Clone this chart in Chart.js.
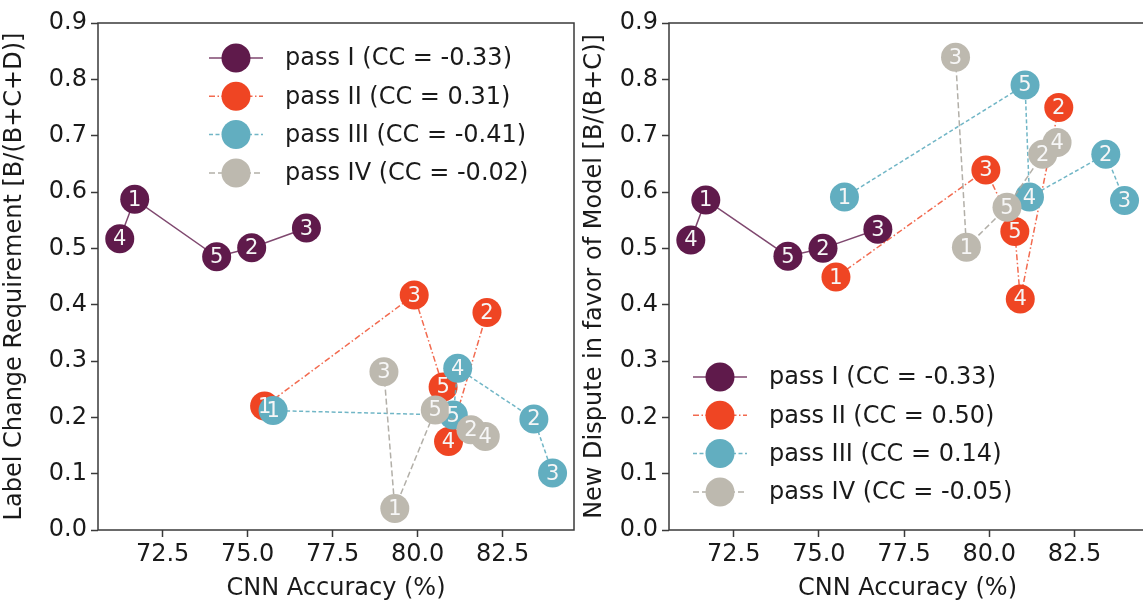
<!DOCTYPE html>
<html>
<head>
<meta charset="utf-8">
<script src="https://cdn.jsdelivr.net/npm/chart.js@4/dist/chart.umd.min.js"></script>
<style>
  html, body { margin: 0; padding: 0; background: #fff; overflow: hidden; }
  body { width: 1143px; height: 603px; position: relative; }
  .box { position: absolute; top: 0; height: 603px; }
  #left { left: 0; width: 580px; }
  #right { left: 580px; width: 572px; }
</style>
</head>
<body>
<div class="box" id="left"><canvas id="chartLeft"></canvas></div>
<div class="box" id="right"><canvas id="chartRight"></canvas></div>
<script>
// fold labels 1..5, values listed in fold order
const folds = ['1', '2', '3', '4', '5'];
const passNames = ['pass I', 'pass II', 'pass III', 'pass IV'];

// CNN accuracy (%) per fold
const accI = [71.68, 75.12, 76.73, 71.24, 74.09];
const accII = [75.50, 82.04, 79.90, 80.91, 80.75];
const accIII = [75.75, 83.42, 83.97, 81.18, 81.05];
const accIV = [79.33, 81.57, 79.01, 81.99, 80.52];

// label change requirement B/(B+C+D)
const lcrI = [0.587, 0.501, 0.536, 0.517, 0.485];
const lcrII = [0.220, 0.386, 0.417, 0.157, 0.254];
const lcrIII = [0.212, 0.197, 0.101, 0.287, 0.204];
const lcrIV = [0.038, 0.178, 0.281, 0.166, 0.213];

// new dispute in favor of model B/(B+C)
const ndI = [0.586, 0.500, 0.534, 0.515, 0.486];
const ndII = [0.449, 0.750, 0.639, 0.410, 0.530];
const ndIII = [0.591, 0.667, 0.585, 0.591, 0.790];
const ndIV = [0.502, 0.667, 0.839, 0.688, 0.573];

const ccLeft = ['-0.33', '0.31', '-0.41', '-0.02'];
const ccRight = ['-0.33', '0.50', '0.14', '-0.05'];

const xTicks = [72.5, 75.0, 77.5, 80.0, 82.5];
const yTicks = [0, 0.1, 0.2, 0.3, 0.4, 0.5, 0.6, 0.7, 0.8, 0.9];

const colors = ['#5f1a4b', '#ef4523', '#62aec0', '#bdb9af'];
const lineColors = ['rgba(95,26,75,0.8)', 'rgba(239,69,35,0.8)', 'rgba(98,174,192,0.9)', 'rgba(170,166,158,0.9)'];
const dashes = [[], [6, 2.5, 1.5, 2.5], [4, 2.5], [6, 3]];
const FONT = 'DejaVu Sans';

function points(xs, ys) {
  return xs.map((x, i) => ({ x: x, y: ys[i], fold: folds[i] }))
    .sort((a, b) => a.x - b.x);
}

function datasets(accs, vals) {
  return accs.map((xs, i) => ({
    label: passNames[i],
    data: points(xs, vals[i]),
    showLine: true,
    borderColor: lineColors[i],
    borderWidth: 1.5,
    borderDash: dashes[i],
    pointRadius: 14.5,
    pointHoverRadius: 14.5,
    pointBackgroundColor: colors[i],
    pointBorderColor: colors[i],
    pointBorderWidth: 0,
    order: 3 - i,
  }));
}

const foldText = {
  id: 'foldText',
  afterDatasetsDraw(chart) {
    const ctx = chart.ctx;
    ctx.save();
    ctx.font = '21px "' + FONT + '"';
    ctx.fillStyle = '#f6f6f6';
    ctx.textAlign = 'center';
    ctx.textBaseline = 'middle';
    chart.data.datasets.forEach((ds, i) => {
      chart.getDatasetMeta(i).data.forEach((pt, j) => {
        ctx.fillText(ds.data[j].fold, pt.x, pt.y + 1);
      });
    });
    ctx.restore();
  }
};

const frame = {
  id: 'frame',
  afterDraw(chart) {
    const a = chart.chartArea;
    const ctx = chart.ctx;
    ctx.save();
    ctx.strokeStyle = '#3a3a3a';
    ctx.lineWidth = 1.5;
    ctx.strokeRect(a.left, a.top, a.right - a.left, a.bottom - a.top);
    ctx.restore();
  }
};

const boxLegend = {
  id: 'boxLegend',
  afterDraw(chart, args, opts) {
    const a = chart.chartArea;
    const ctx = chart.ctx;
    ctx.save();
    opts.cc.forEach((cc, i) => {
      const mx = a.left + opts.dx;
      const my = a.top + opts.dy + i * 38.3;
      ctx.strokeStyle = lineColors[i];
      ctx.lineWidth = 1.5;
      ctx.setLineDash(dashes[i]);
      ctx.beginPath();
      ctx.moveTo(mx - 27, my);
      ctx.lineTo(mx + 27, my);
      ctx.stroke();
      ctx.setLineDash([]);
      ctx.fillStyle = colors[i];
      ctx.beginPath();
      ctx.arc(mx, my, 14.5, 0, Math.PI * 2);
      ctx.fill();
      ctx.fillStyle = '#1a1a1a';
      ctx.font = '24px "' + FONT + '"';
      ctx.textAlign = 'left';
      ctx.textBaseline = 'middle';
      ctx.fillText(passNames[i] + ' (CC = ' + cc + ')', mx + 49, my + 1);
    });
    ctx.restore();
  }
};

function makeChart(id, accs, vals, yTitle, yWidth, legendOpts) {
  return new Chart(document.getElementById(id), {
    type: 'scatter',
    data: { datasets: datasets(accs, vals) },
    plugins: [foldText, frame, boxLegend],
    options: {
      responsive: true,
      maintainAspectRatio: false,
      animation: false,
      layout: { autoPadding: false, padding: { top: 23, right: 6, left: 0, bottom: 0 } },
      scales: {
        x: {
          type: 'linear',
          min: 70.6,
          max: 84.6,
          afterBuildTicks: (axis) => { axis.ticks = xTicks.map((v) => ({ value: v })); },
          afterFit: (axis) => { axis.height = 73; },
          border: { display: false },
          grid: { drawOnChartArea: false, tickLength: 7, color: '#3a3a3a', tickWidth: 1.5 },
          ticks: {
            color: '#1a1a1a',
            font: { family: FONT, size: 24 },
            padding: 3,
            maxRotation: 0,
            callback: (v) => v.toFixed(1),
          },
          title: {
            display: true,
            text: 'CNN Accuracy (%)',
            color: '#1a1a1a',
            font: { family: FONT, size: 24 },
            padding: { top: 0, bottom: 0 },
          },
        },
        y: {
          type: 'linear',
          min: 0,
          max: 0.9,
          afterBuildTicks: (axis) => { axis.ticks = yTicks.map((v) => ({ value: v })); },
          afterFit: (axis) => { axis.width = yWidth; },
          border: { display: false },
          grid: { drawOnChartArea: false, tickLength: 7, color: '#3a3a3a', tickWidth: 1.5 },
          ticks: {
            color: '#1a1a1a',
            font: { family: FONT, size: 24 },
            padding: 4,
            callback: (v) => v.toFixed(1),
          },
          title: {
            display: true,
            text: yTitle,
            color: '#1a1a1a',
            font: { family: FONT, size: 24 },
            padding: { top: 0, bottom: 0 },
          },
        },
      },
      plugins: {
        legend: { display: false },
        tooltip: { enabled: false },
        boxLegend: legendOpts,
      },
    },
  });
}

makeChart('chartLeft', [accI, accII, accIII, accIV], [lcrI, lcrII, lcrIII, lcrIV],
  'Label Change Requirement [B/(B+C+D)]', 98, { cc: ccLeft, dx: 138, dy: 35 });
makeChart('chartRight', [accI, accII, accIII, accIV], [ndI, ndII, ndIII, ndIV],
  'New Dispute in favor of Model [B/(B+C)]', 89, { cc: ccRight, dx: 51, dy: 354 });
</script>
</body>
</html>
